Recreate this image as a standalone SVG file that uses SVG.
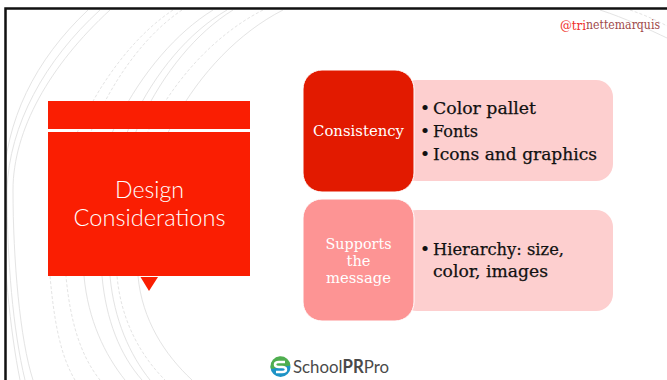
<svg xmlns="http://www.w3.org/2000/svg" width="667" height="380" viewBox="0 0 667 380">
<style>
.arc{fill:none;stroke:#e4e4e4;stroke-width:1}
.dash{stroke-dasharray:3 2}
.slab{font-family:"DejaVu Serif","Liberation Serif",serif}
.item{font-size:17px;fill:#111;stroke:#111;stroke-width:.25}
.head{font-size:14.5px;fill:#fff;text-anchor:middle}
.title{font-family:"Lato","Open Sans",sans-serif;font-weight:300;font-size:23px;fill:#fff;text-anchor:middle}
</style>
<rect width="667" height="380" fill="#fff"/>
<g id="background-arcs">
<path class="arc" d="M88 10C35 60 5 120 3 190C3 260 10 330 20 380"/>
<path class="arc" d="M100 10C45 60 9 125 7 190C7 260 13 330 25 380"/>
<path class="arc" d="M110 10C50 65 13 130 13 190C13 260 20 340 33 380"/>
<path class="arc dash" d="M173 10C105 55 42 170 50 276C54 320 60 355 75 380"/>
<path class="arc dash" d="M182 10C115 55 58 170 66 276C70 320 80 355 100 380"/>
<path class="arc" d="M213 10C140 55 76 170 84 276C88 320 105 355 125 380"/>
<path class="arc" d="M227 10C150 55 94 170 102 276C106 320 120 355 142 380"/>
<path class="arc" d="M233 10C160 55 102 170 110 276C114 320 130 355 150 380"/>
<path class="arc dash" d="M263 10C175 55 109 170 117 276C121 320 140 355 165 380"/>
<path class="arc" d="M283 10C195 55 130 170 138 276C142 320 165 355 192 380"/>
<path class="arc" d="M600 10C625 18 650 30 667 38"/>
<path class="arc dash" d="M630 10C645 15 660 22 667 26"/>
</g>
<g id="frame">
<rect x="0" y="0" width="5" height="380" fill="#fff"/>
<path d="M667 8.500H5.500V380" fill="none" stroke="#111" stroke-width="2.500"/>
</g>
<g id="title-block">
<rect x="48" y="101" width="202" height="28" fill="#fa1e02"/>
<rect x="48" y="132" width="202" height="144" fill="#fa1e02"/>
<path d="M140.500 277H158L149 291Z" fill="#fa1e02"/>
<text class="title" x="149.500" y="198" textLength="69" lengthAdjust="spacingAndGlyphs">Design</text>
<text class="title" x="149.500" y="226" textLength="152" lengthAdjust="spacingAndGlyphs">Considerations</text>
</g>
<g id="consistency-detail">
<rect x="400" y="80" width="213" height="101" rx="17" fill="#fdcfcf"/>
<text class="slab item"><tspan x="420" y="114">•</tspan><tspan x="433" y="114" textLength="103" lengthAdjust="spacingAndGlyphs">Color pallet</tspan></text>
<text class="slab item"><tspan x="420" y="137">•</tspan><tspan x="433" y="137" textLength="45" lengthAdjust="spacingAndGlyphs">Fonts</tspan></text>
<text class="slab item"><tspan x="420" y="160">•</tspan><tspan x="433" y="160" textLength="164" lengthAdjust="spacingAndGlyphs">Icons and graphics</tspan></text>
</g>
<g id="consistency">
<rect x="303" y="70" width="111" height="122" rx="19" fill="#e21a00" stroke="#fff" stroke-width="1"/>
<text class="slab head" x="358.500" y="136" textLength="91" lengthAdjust="spacingAndGlyphs">Consistency</text>
</g>
<g id="supports-detail">
<rect x="400" y="210" width="213" height="101" rx="17" fill="#fdcfcf"/>
<text class="slab item"><tspan x="420" y="255">•</tspan><tspan x="433" y="255" textLength="131" lengthAdjust="spacingAndGlyphs">Hierarchy: size,</tspan></text>
<text class="slab item"><tspan x="433" y="277" textLength="115" lengthAdjust="spacingAndGlyphs">color, images</tspan></text>
</g>
<g id="supports">
<rect x="303" y="199" width="111" height="122" rx="19" fill="#fd9494" stroke="#fff" stroke-width="1"/>
<text class="slab head" x="358.500" y="249" textLength="66" lengthAdjust="spacingAndGlyphs">Supports</text>
<text class="slab head" x="358.500" y="266" textLength="24" lengthAdjust="spacingAndGlyphs">the</text>
<text class="slab head" x="358.500" y="283" textLength="65" lengthAdjust="spacingAndGlyphs">message</text>
</g>
<g id="handle">
<text x="560" y="30" font-family="'DejaVu Serif',serif" font-size="13" fill="#f0302a" textLength="26" lengthAdjust="spacingAndGlyphs">@tri</text>
<text x="586" y="29" font-family="'DejaVu Serif',serif" font-size="12" fill="#a04a4a" textLength="74" lengthAdjust="spacingAndGlyphs">nettemarquis</text>
</g>
<g id="logo">
<circle cx="280.500" cy="367" r="10" fill="#1d93c6"/>
<path d="M270.500 367a10 10 0 0 1 20 -1.500L271 369Z" fill="#4fae4f"/>
<path d="M285 362H279q-4 0 -4 2.500t4 2.500h3q4 0 4 2.500t-4 2.500h-6" fill="none" stroke="#fff" stroke-width="2.500"/>
<text x="293" y="373" font-family="Lato,'Open Sans',sans-serif" font-size="18" fill="#4a4a4a" textLength="96" lengthAdjust="spacingAndGlyphs">School<tspan font-weight="700">PR</tspan>Pro</text>
</g>
</svg>
